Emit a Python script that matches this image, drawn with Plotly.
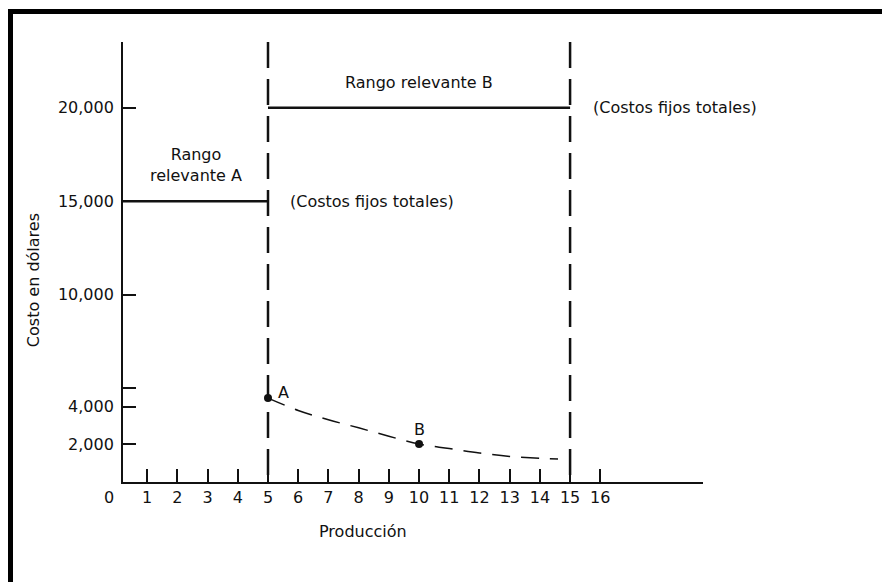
import plotly.graph_objects as go

# ---- data ----
prod_ticks = list(range(1, 17))
cost_tickvals = [2000, 4000, 5000, 10000, 15000, 20000]
cost_ticktext = ["2,000", "4,000", "", "10,000", "15,000", "20,000"]

fixed_a_x = [0, 5]
fixed_a_y = [15000, 15000]
fixed_b_x = [5, 15]
fixed_b_y = [20000, 20000]

range_bounds = [5, 15]
bound_top = 23520

curve_x = [5, 6, 7, 8, 9, 10, 11, 12, 13, 14, 14.6]
curve_y = [4460, 3800, 3300, 2870, 2420, 2000, 1760, 1520, 1340, 1240, 1200]

pts_x = [5, 10]
pts_y = [4460, 2000]
pts_lbl = ["A", "B"]

FONT = "DejaVu Sans"
INK = "#111111"

fig = go.Figure()

fig.add_trace(go.Scatter(x=fixed_a_x, y=fixed_a_y, mode="lines",
                         line=dict(color=INK, width=2.5), showlegend=False))
fig.add_trace(go.Scatter(x=fixed_b_x, y=fixed_b_y, mode="lines",
                         line=dict(color=INK, width=2.5), showlegend=False))
for b in range_bounds:
    fig.add_trace(go.Scatter(x=[b, b], y=[bound_top, -30], mode="lines",
                             line=dict(color=INK, width=2.5, dash="26px,11px"),
                             showlegend=False))
fig.add_trace(go.Scatter(x=curve_x, y=curve_y, mode="lines",
                         line=dict(color=INK, width=1.5, dash="18px,11px", shape="spline"),
                         showlegend=False))
fig.add_trace(go.Scatter(x=pts_x, y=pts_y, mode="markers",
                         marker=dict(color=INK, size=8), showlegend=False))

ann = []
ann.append(dict(x=pts_x[0], y=pts_y[0], text=pts_lbl[0], xshift=15, yshift=6))
ann.append(dict(x=pts_x[1], y=pts_y[1], text=pts_lbl[1], yshift=15))
ann.append(dict(x=2.6, y=16960, text="Rango<br>relevante A"))
ann.append(dict(x=10, y=21340, text="Rango relevante B"))
ann.append(dict(x=15.7, y=20000, text="(Costos fijos totales)", xanchor="left"))
ann.append(dict(x=5.66, y=15000, text="(Costos fijos totales)", xanchor="left"))
ann.append(dict(x=-0.155, y=0.459, xref="paper", yref="paper", text="Costo en dólares",
                textangle=-90))
ann.append(dict(x=8.16, y=-0.113, xref="x", yref="paper", text="Producción"))
ann.append(dict(x=-0.0236, y=-0.036, xref="paper", yref="paper", text="0"))
for a in ann:
    a.update(showarrow=False, font=dict(family=FONT, size=16, color=INK))
    a.setdefault("xref", "x")
    a.setdefault("yref", "y")
    a.setdefault("xanchor", "center")
    a.setdefault("yanchor", "middle")

# page coords: plot area left=123, bottom=482 (page has 8px body margin)
shapes = [
    dict(type="rect", xref="paper", yref="paper",
         x0=(8 - 123) / 580, x1=(890 - 123) / 580,
         y0=(482 - 14) / 440, y1=(482 - 9) / 440,
         fillcolor="black", line=dict(width=0)),
    dict(type="rect", xref="paper", yref="paper",
         x0=(8 - 123) / 580, x1=(13 - 123) / 580,
         y0=(482 - 582) / 440, y1=(482 - 9) / 440,
         fillcolor="black", line=dict(width=0)),
]

fig.update_layout(
    width=882, height=574,
    margin=dict(l=115, r=187, t=34, b=100),
    paper_bgcolor="white", plot_bgcolor="white",
    font=dict(family=FONT, size=16, color=INK),
    annotations=ann, shapes=shapes, showlegend=False,
    xaxis=dict(range=[0.2, 19.4], tickvals=prod_ticks, ticktext=[str(t) for t in prod_ticks],
               ticks="inside", ticklen=13, tickwidth=1.5, tickcolor=INK,
               showline=True, linecolor=INK, linewidth=1.8, showgrid=False, zeroline=False,
               tickfont=dict(family=FONT, size=16, color=INK)),
    yaxis=dict(range=[-30, 23520], tickvals=cost_tickvals, ticktext=cost_ticktext,
               ticks="inside", ticklen=13, tickwidth=1.5, tickcolor=INK,
               ticklabelstandoff=4,
               showline=True, linecolor=INK, linewidth=1.8, showgrid=False, zeroline=False,
               tickfont=dict(family=FONT, size=16, color=INK)),
)

fig.write_html("out.html")
